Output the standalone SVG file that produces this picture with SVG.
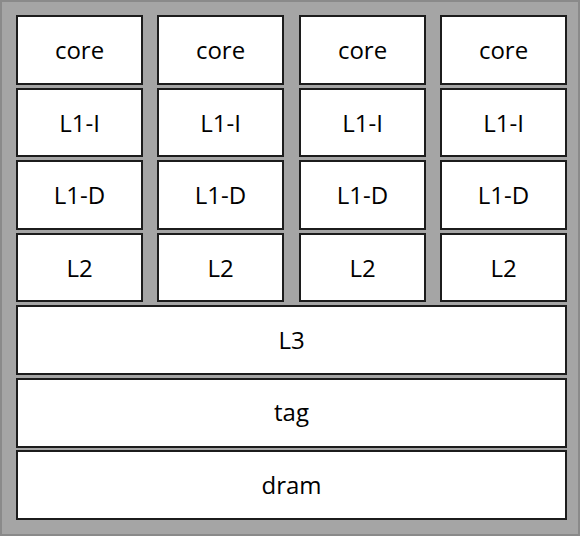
<svg xmlns="http://www.w3.org/2000/svg" width="580" height="536" viewBox="0 0 580 536">
  <style>
    .bg { fill: #a5a5a5; stroke: #8a8a8a; stroke-width: 2; }
    .box rect { fill: #ffffff; stroke: #1c1c1c; stroke-width: 2; }
    .box text { font-family: "Open Sans", "Noto Sans", "Liberation Sans", sans-serif; font-size: 24px; fill: #000000; text-anchor: middle; }
  </style>
  <!-- chip background -->
  <rect class="bg" x="1" y="1" width="578" height="534"/>

  <!-- per-core stacks -->
  <g id="core0" class="box"><rect x="17" y="16" width="125" height="68"/><text x="79.5" y="59">core</text></g>
  <g id="core1" class="box"><rect x="158" y="16" width="125" height="68"/><text x="220.5" y="59">core</text></g>
  <g id="core2" class="box"><rect x="300" y="16" width="125" height="68"/><text x="362.5" y="59">core</text></g>
  <g id="core3" class="box"><rect x="441" y="16" width="125" height="68"/><text x="503.5" y="59">core</text></g>

  <g id="l1i0" class="box"><rect x="17" y="89" width="125" height="67"/><text x="79.5" y="132">L1-I</text></g>
  <g id="l1i1" class="box"><rect x="158" y="89" width="125" height="67"/><text x="220.5" y="132">L1-I</text></g>
  <g id="l1i2" class="box"><rect x="300" y="89" width="125" height="67"/><text x="362.5" y="132">L1-I</text></g>
  <g id="l1i3" class="box"><rect x="441" y="89" width="125" height="67"/><text x="503.5" y="132">L1-I</text></g>

  <g id="l1d0" class="box"><rect x="17" y="161" width="125" height="68"/><text x="79.5" y="204">L1-D</text></g>
  <g id="l1d1" class="box"><rect x="158" y="161" width="125" height="68"/><text x="220.5" y="204">L1-D</text></g>
  <g id="l1d2" class="box"><rect x="300" y="161" width="125" height="68"/><text x="362.5" y="204">L1-D</text></g>
  <g id="l1d3" class="box"><rect x="441" y="161" width="125" height="68"/><text x="503.5" y="204">L1-D</text></g>

  <g id="l2_0" class="box"><rect x="17" y="234" width="125" height="67"/><text x="79.5" y="277">L2</text></g>
  <g id="l2_1" class="box"><rect x="158" y="234" width="125" height="67"/><text x="220.5" y="277">L2</text></g>
  <g id="l2_2" class="box"><rect x="300" y="234" width="125" height="67"/><text x="362.5" y="277">L2</text></g>
  <g id="l2_3" class="box"><rect x="441" y="234" width="125" height="67"/><text x="503.5" y="277">L2</text></g>

  <!-- shared levels -->
  <g id="l3" class="box"><rect x="17" y="306" width="549" height="68"/><text x="291.5" y="349">L3</text></g>
  <g id="tag" class="box"><rect x="17" y="379" width="549" height="68"/><text x="291.5" y="421">tag</text></g>
  <g id="dram" class="box"><rect x="17" y="451" width="549" height="68"/><text x="291.5" y="494">dram</text></g>

  <g id="connectors"/>
</svg>
